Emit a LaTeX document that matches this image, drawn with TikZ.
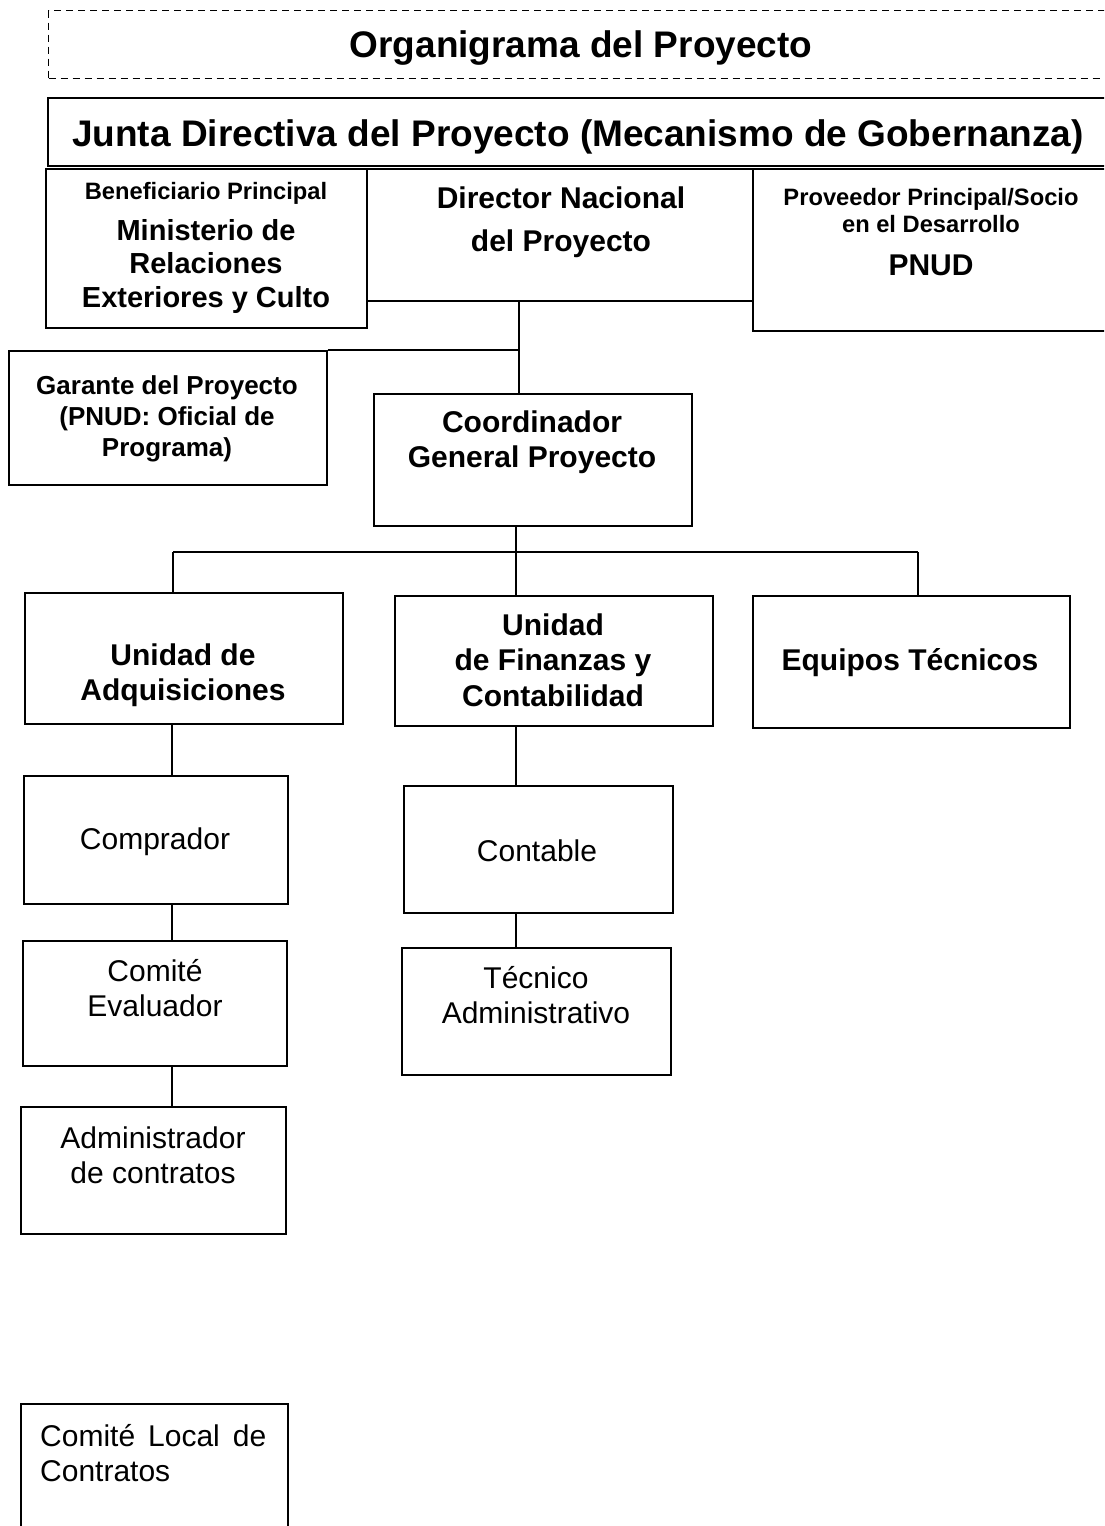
\documentclass[tikz,border=0pt]{standalone}
\usepackage{fontspec}
\setmainfont{Liberation Sans}
\begin{document}
\begin{tikzpicture}[x=1pt,y=-1pt,
  box/.style={draw, line width=1.6pt, inner sep=0pt, anchor=north west},
  conn/.style={line width=1.4pt},
  heavyconn/.style={line width=2.6pt},
  tbig/.style={inner sep=0pt, align=center, font=\bfseries\fontsize{37}{44}\selectfont},
  tsmall/.style={inner sep=0pt, align=center, font=\bfseries\fontsize{23.7}{27}\selectfont},
  tmin/.style={inner sep=0pt, align=center, font=\bfseries\fontsize{29}{33.5}\selectfont},
  tbold/.style={inner sep=0pt, align=center, font=\bfseries\fontsize{30}{35.5}\selectfont},
  tgar/.style={inner sep=0pt, align=center, font=\bfseries\fontsize{26}{31}\selectfont},
  treg/.style={inner sep=0pt, align=center, font=\fontsize{30}{35}\selectfont}]
\useasboundingbox (0,0) rectangle (1104,1526);
\clip (0,0) rectangle (1104,1526);
\fill[white] (0,0) rectangle (1104,1526);

% boxes
\node[box, dashed, dash pattern=on 7pt off 5pt, line width=1.2pt, minimum width=1100pt, minimum height=68pt] (title) at (48,10) {};
\node[box, minimum width=1100pt, minimum height=68pt] (junta) at (47,97) {};
\node[box, minimum width=321pt, minimum height=159pt] (bene) at (45,168) {};
\node[box, minimum width=386pt, minimum height=132pt] (dir) at (366,168) {};
\node[box, minimum width=400pt, minimum height=162pt] (prov) at (752,168) {};
\node[box, minimum width=318pt, minimum height=134pt] (gar) at (8,350) {};
\node[box, minimum width=318pt, minimum height=132pt] (coord) at (373,393) {};
\node[box, minimum width=318pt, minimum height=131pt] (uadq) at (24,592) {};
\node[box, minimum width=318pt, minimum height=130pt] (ufin) at (394,595) {};
\node[box, minimum width=317pt, minimum height=132pt] (equip) at (752,595) {};
\node[box, minimum width=264pt, minimum height=128pt] (compr) at (23,775) {};
\node[box, minimum width=264pt, minimum height=125pt] (ceval) at (22,940) {};
\node[box, minimum width=265pt, minimum height=127pt] (admin) at (20,1106) {};
\node[box, minimum width=269pt, minimum height=127pt] (contab) at (403,785) {};
\node[box, minimum width=269pt, minimum height=127pt] (tecadm) at (401,947) {};
\node[box, minimum width=267pt, minimum height=200pt] (clocal) at (20,1403) {};

% connectors
\coordinate (j1) at (519,350);
\coordinate (j2) at (516,552);
\coordinate (b1) at (173,552);
\coordinate (b3) at (918,552);
\coordinate (c1) at (172,0);
\coordinate (c2) at (516,0);
\draw[conn] (dir.south -| j1) -- (coord.north -| j1);
\draw[conn] (gar.north east) -- (j1);
\draw[conn] (coord.south -| j2) -- (j2);
\draw[conn] (b1) -- (b3);
\draw[conn] (b1) -- (uadq.north -| b1);
\draw[conn] (j2) -- (ufin.north -| j2);
\draw[conn] (b3) -- (equip.north -| b3);
\draw[heavyconn] (uadq.south -| c1) -- (compr.north -| c1);
\draw[heavyconn] (compr.south -| c1) -- (ceval.north -| c1);
\draw[heavyconn] (ceval.south -| c1) -- (admin.north -| c1);
\draw[heavyconn] (ufin.south -| c2) -- (contab.north -| c2);
\draw[heavyconn] (contab.south -| c2) -- (tecadm.north -| c2);

% texts
\node[tbig] (ttitle) at (581,48) {Organigrama del Proyecto};
\node[tbig] (tjunta) at (578,137) {Junta Directiva del Proyecto (Mecanismo de Gobernanza)};
\node[tsmall] (tbene1) at (206,193) {Beneficiario Principal};
\node[tmin] (tbene2) at (206,266) {Ministerio de\\Relaciones\\Exteriores y Culto};
\node[inner sep=0pt, align=center, font=\bfseries\fontsize{30}{43}\selectfont] (tdir) at (561,222) {Director Nacional\\del Proyecto};
\node[tsmall] (tprov1) at (931,211) {Proveedor Principal/Socio\\en el Desarrollo};
\node[tbold] (tprov2) at (931,265) {PNUD};
\node[tgar] (tgar) at (167,419) {Garante del Proyecto\\(PNUD: Oficial de\\Programa)};
\node[tbold] (tcoord) at (532,442) {Coordinador\\General Proyecto};
\node[tbold] (tuadq) at (183,675) {Unidad de\\Adquisiciones};
\node[tbold] (tufin) at (553,660) {Unidad\\de Finanzas y\\Contabilidad};
\node[tbold] (tequip) at (910,663) {Equipos Técnicos};
\node[treg] (tcompr) at (155,842) {Comprador};
\node[treg] (tceval) at (155,988) {Comité\\Evaluador};
\node[treg] (tadmin) at (153,1155) {Administrador\\de contratos};
\node[treg] (tcontab) at (537,851) {Contable};
\node[treg] (ttecadm) at (536,995) {Técnico\\Administrativo};
\node[treg, align=left, anchor=west] (tclocal) at (40,1453) {Comité\hspace{13pt}Local\hspace{13pt}de\\Contratos};
\end{tikzpicture}
\end{document}
